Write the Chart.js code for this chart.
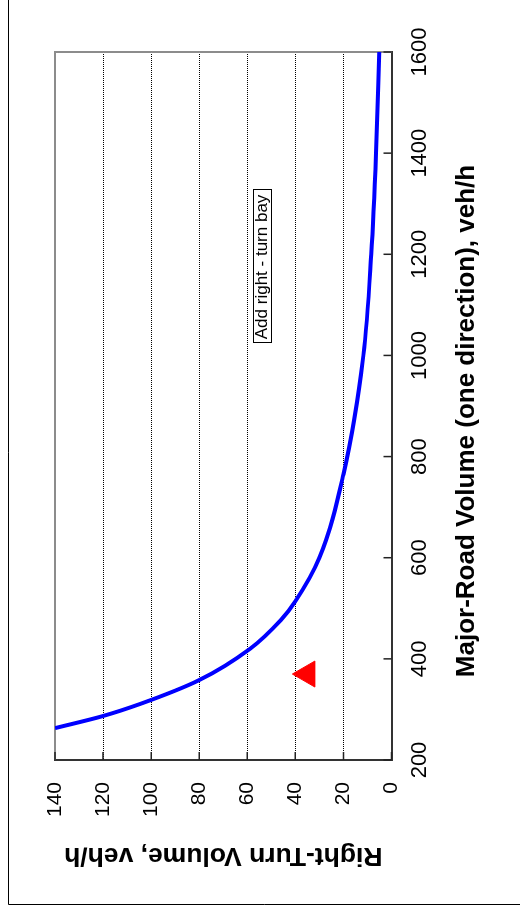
<!DOCTYPE html>
<html>
<head>
<meta charset="utf-8">
<script src="https://cdn.jsdelivr.net/npm/chart.js@4/dist/chart.umd.min.js"></script>
<style>
  html, body { margin: 0; padding: 0; background: #fff; overflow: hidden; }
  /* chart is drawn landscape, then turned a quarter left */
  #wrap { position: absolute; left: 0; top: 0; width: 912px; height: 520px;
          transform-origin: 0 0; transform: translateY(912px) rotate(-90deg); }
</style>
</head>
<body>
<div id="wrap"><canvas id="bayChart" width="912" height="520"></canvas></div>
<script>
const majorVolume = [263, 287, 311, 358, 420, 477, 514, 600, 765, 1000, 1200, 1400, 1600];
const rightTurnVolume = [140, 120, 104.5, 80, 58.8, 46, 40, 30, 20, 11.7, 8.4, 6.4, 5.1];
const siteVolume = [370];
const siteTurns = [35];
const xTicks = [200, 400, 600, 800, 1000, 1200, 1400, 1600];
const yTicks = [0, 20, 40, 60, 80, 100, 120, 140];
const xTitle = "Major-Road Volume (one direction), veh/h";
const noteText = "Add right - turn bay";
const notePos = { x: 1175, y: 54 };

const fontFamily = "'Liberation Sans', Arial, sans-serif";

const frameAndTicks = {
    id: "frameAndTicks",
    beforeDraw(chart) {
        const ctx = chart.ctx;
        ctx.save();
        ctx.fillStyle = "#fff";
        ctx.fillRect(0, 0, chart.width, chart.height);
        ctx.strokeStyle = "#000";
        ctx.lineWidth = 1;
        ctx.beginPath();
        ctx.moveTo(7.5, chart.height);
        ctx.lineTo(7.5, 8.5);
        ctx.lineTo(chart.width, 8.5);
        ctx.stroke();
        ctx.restore();
    },
    beforeDatasetsDraw(chart) {
        const { ctx, chartArea: a, scales: { x, y } } = chart;
        ctx.save();
        ctx.strokeStyle = "#8c8c8c";
        ctx.lineWidth = 2;
        ctx.beginPath();
        ctx.moveTo(a.left, a.top);
        ctx.lineTo(a.right, a.top);
        ctx.lineTo(a.right, a.bottom);
        ctx.stroke();
        // inward tick marks
        ctx.strokeStyle = "#222";
        ctx.lineWidth = 1.5;
        ctx.beginPath();
        xTicks.forEach(v => {
            const p = x.getPixelForValue(v);
            ctx.moveTo(p, a.bottom);
            ctx.lineTo(p, a.bottom - 8);
        });
        yTicks.forEach(v => {
            const p = y.getPixelForValue(v);
            ctx.moveTo(a.left, p);
            ctx.lineTo(a.left + 8, p);
        });
        ctx.stroke();
        ctx.restore();
    },
    afterDatasetsDraw(chart) {
        const { ctx, chartArea: a, scales: { x, y } } = chart;
        const cx = x.getPixelForValue(notePos.x);
        const cy = y.getPixelForValue(notePos.y);
        ctx.save();
        ctx.font = "17px " + fontFamily;
        const w = ctx.measureText(noteText).width + 8;
        const h = 18;
        ctx.fillStyle = "#fff";
        ctx.fillRect(cx - w / 2, cy - h / 2, w, h);
        ctx.strokeStyle = "#000";
        ctx.lineWidth = 1;
        ctx.strokeRect(Math.round(cx - w / 2) + 0.5, Math.round(cy - h / 2) + 0.5, Math.round(w), h);
        ctx.fillStyle = "#000";
        ctx.textAlign = "center";
        ctx.textBaseline = "middle";
        ctx.fillText(noteText, cx, cy + 1);

        // x axis title, sits a little left of the plot centre
        ctx.font = "bold 26px " + fontFamily;
        ctx.fillText(xTitle, (a.left + a.right) / 2 - 15, 467);
        ctx.restore();
    }
};

const ctxBay = document.getElementById("bayChart").getContext("2d");
new Chart(ctxBay, {
    type: "line",
    data: {
        datasets: [{
            label: "Warrant",
            data: majorVolume.map((v, i) => ({ x: v, y: rightTurnVolume[i] })),
            borderColor: "#0000ff",
            borderWidth: 4,
            pointRadius: 0,
            cubicInterpolationMode: "monotone",
            fill: false
        }, {
            label: "Site",
            data: siteVolume.map((v, i) => ({ x: v, y: siteTurns[i] })),
            showLine: false,
            pointStyle: "triangle",
            pointRadius: 15,
            backgroundColor: "#ff0000",
            borderColor: "#ff0000",
            borderWidth: 1
        }]
    },
    options: {
        responsive: false,
        animation: false,
        layout: { padding: { left: 0, top: 55, right: 52, bottom: 0 } },
        plugins: { legend: { display: false }, tooltip: { enabled: false } },
        scales: {
            x: {
                type: "linear",
                min: xTicks[0],
                max: xTicks[xTicks.length - 1],
                afterFit: s => { s.height = 128.5; },
                afterBuildTicks: s => { s.ticks = xTicks.map(v => ({ value: v })); },
                grid: { display: false, drawTicks: false },
                border: { display: true, color: "#333", width: 2 },
                ticks: {
                    color: "#000", padding: 15, maxRotation: 0,
                    font: { family: fontFamily, size: 22 },
                    callback: v => String(v)
                }
            },
            y: {
                min: yTicks[0],
                max: yTicks[yTicks.length - 1],
                afterFit: s => { s.width = 152; },
                afterBuildTicks: s => { s.ticks = yTicks.map(v => ({ value: v })); },
                grid: {
                    drawTicks: false,
                    lineWidth: 1,
                    color: c => (c.tick && c.tick.value > 0 && c.tick.value < 140) ? "#000" : "rgba(0,0,0,0)"
                },
                border: { display: true, color: "#333", width: 2, dash: [1, 1] },
                ticks: {
                    color: "#000", padding: 22,
                    font: { family: fontFamily, size: 21 },
                    callback: v => String(v)
                },
                title: {
                    display: true,
                    text: "Right-Turn Volume, veh/h",
                    color: "#000",
                    padding: { top: 41, bottom: 0 },
                    font: { family: fontFamily, size: 26.5, weight: "bold" }
                }
            }
        }
    },
    plugins: [frameAndTicks]
});
</script>
</body>
</html>
